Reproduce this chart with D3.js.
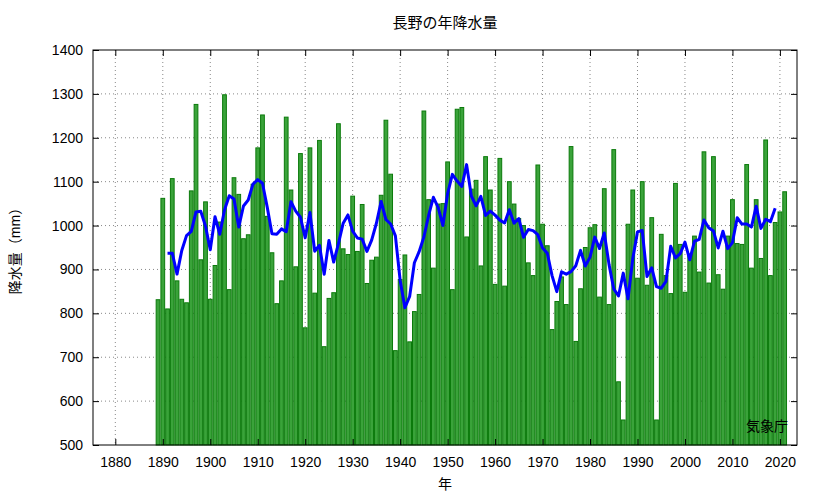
<!DOCTYPE html>
<html>
<head>
<meta charset="utf-8">
<script src="https://cdn.jsdelivr.net/npm/d3@7"></script>
<style>
  body { margin: 0; background: #fff; }
  text { font-family: "Liberation Sans", "Noto Sans CJK JP", sans-serif; }
</style>
</head>
<body>
<svg id="chart" width="833" height="498"></svg>
<script>
// annual precipitation, Nagano (mm), 1889 - 2021
var firstYear = 1889;
var rain = [
  831, 1062, 810, 1107, 874, 832, 824, 1079, 1276, 922,          // 1889-1898
  1054, 832, 909, 1008, 1298, 854, 1109, 1071, 970, 979,          // 1899-1908
  1094, 1177, 1252, 1021, 938, 822, 874, 1247, 1081, 906,         // 1909-1918
  1164, 767, 1177, 846, 1194, 724, 834, 847, 1232, 947,           // 1919-1928
  934, 1067, 941, 1048, 868, 921, 928, 1069, 1240, 1117,          // 1929-1938
  715, 877, 933, 735, 804, 843, 1261, 1059, 903, 1049,            // 1939-1948
  1050, 1145, 854, 1265, 1269, 974, 1083, 1103, 908, 1157,        // 1949-1958
  1081, 866, 1153, 862, 1100, 1049, 1016, 1000, 915, 886,         // 1959-1968
  1138, 1003, 954, 763, 827, 883, 820, 1180, 736, 856,            // 1969-1978
  950, 995, 1002, 837, 1084, 820, 1173, 644, 557, 1003,           // 1979-1988
  1081, 880, 1100, 864, 1018, 557, 980, 886, 845, 1096,           // 1989-1998
  957, 848, 935, 976, 894, 1168, 869, 1157, 888, 855,             // 1999-2008
  976, 1059, 959, 957, 1139, 903, 1059, 925, 1195, 886,           // 2009-2018
  1007, 1031, 1077                                                // 2019-2021
];
var xTicks = [1880, 1890, 1900, 1910, 1920, 1930, 1940, 1950, 1960, 1970, 1980, 1990, 2000, 2010, 2020];
var yTicks = [500, 600, 700, 800, 900, 1000, 1100, 1200, 1300, 1400];

var data = rain.map(function(v, i) { return {year: firstYear + i, value: v}; });

// 5-year centred running mean
var runMean = [];
for (var i = 2; i < data.length - 2; i++) {
  runMean.push({year: data[i].year, value: d3.mean(data.slice(i - 2, i + 3), function(d) { return d.value; })});
}

var svg = d3.select("#chart");
var pLeft = 93, pRight = 797, pTop = 50, pBottom = 445;

var x = d3.scaleLinear().domain([1875.3, 2023.6]).range([pLeft, pRight]);
var y = d3.scaleLinear().domain([500, 1400]).range([pBottom, pTop]);
var bw = x(1891) - x(1890);

// grid
svg.append("g").selectAll("line").data(yTicks.slice(1, -1)).enter().append("line")
  .attr("x1", pLeft).attr("x2", pRight)
  .attr("y1", function(d) { return y(d); }).attr("y2", function(d) { return y(d); })
  .attr("stroke", "#888").attr("stroke-width", 1).attr("stroke-dasharray", "1,3");
svg.append("g").selectAll("line").data(xTicks).enter().append("line")
  .attr("y1", pTop).attr("y2", pBottom)
  .attr("x1", function(d) { return x(d); }).attr("x2", function(d) { return x(d); })
  .attr("stroke", "#888").attr("stroke-width", 1).attr("stroke-dasharray", "1,3");

// bars
svg.append("g").selectAll("rect").data(data).enter().append("rect")
  .attr("x", function(d) { return x(d.year) - bw / 2 + 0.5; })
  .attr("width", bw - 1)
  .attr("y", function(d) { return y(d.value); })
  .attr("height", function(d) { return pBottom - y(d.value); })
  .attr("fill", "#3aa33a").attr("stroke", "#0b7a0b").attr("stroke-width", 1);

// running mean
svg.append("path").datum(runMean)
  .attr("fill", "none").attr("stroke", "#0000ff").attr("stroke-width", 3)
  .attr("stroke-linejoin", "round")
  .attr("d", d3.line().x(function(d) { return x(d.year); }).y(function(d) { return y(d.value); }));

// frame + axes
svg.append("rect").attr("x", pLeft).attr("y", pTop).attr("width", pRight - pLeft).attr("height", pBottom - pTop)
  .attr("fill", "none").attr("stroke", "#000").attr("stroke-width", 1);

svg.append("g").attr("transform", "translate(0," + pBottom + ")")
  .call(d3.axisBottom(x).tickValues(xTicks).tickFormat(d3.format("d")).tickSize(-6).tickPadding(12));
svg.append("g").attr("transform", "translate(" + pLeft + ",0)")
  .call(d3.axisLeft(y).tickValues(yTicks).tickFormat(d3.format("d")).tickSize(-6).tickPadding(10));
// mirrored ticks on top/right
svg.append("g").attr("transform", "translate(0," + pTop + ")")
  .call(d3.axisTop(x).tickValues(xTicks).tickFormat("").tickSize(-6));
svg.append("g").attr("transform", "translate(" + pRight + ",0)")
  .call(d3.axisRight(y).tickValues(yTicks).tickFormat("").tickSize(-6));
svg.selectAll(".domain").remove();
svg.selectAll(".tick text").attr("font-size", 14).attr("fill", "#000")
  .style("font-family", "'Liberation Sans', sans-serif");

svg.append("text").attr("x", 445).attr("y", 28).attr("text-anchor", "middle")
  .attr("font-size", 15).text("長野の年降水量");
svg.append("text").attr("x", 445).attr("y", 489).attr("text-anchor", "middle")
  .attr("font-size", 14).text("年");
svg.append("text").attr("transform", "translate(20," + ((pTop + pBottom) / 2) + ") rotate(-90)")
  .attr("text-anchor", "middle").attr("font-size", 14).text("降水量（mm）");
svg.append("text").attr("x", 788).attr("y", 431).attr("text-anchor", "end")
  .attr("font-size", 14).text("気象庁");
</script>
</body>
</html>
